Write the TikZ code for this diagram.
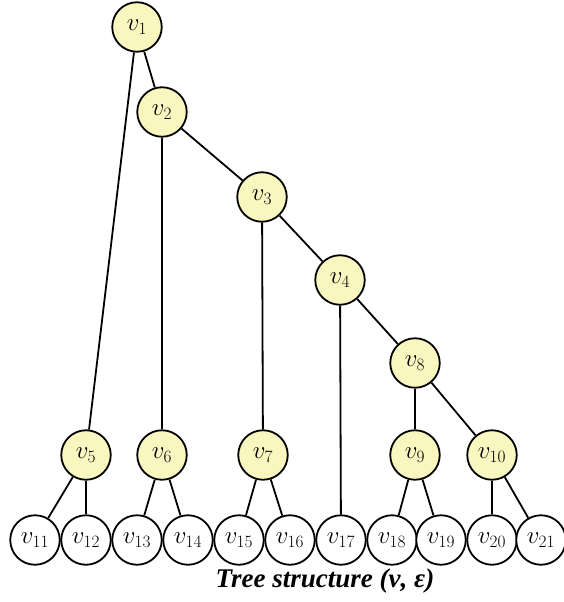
\documentclass[tikz,border=0pt]{standalone}
\usepackage{fontspec}
\setmainfont{Liberation Serif}
\begin{document}
\begin{tikzpicture}[x=1pt,y=-1pt,
  vnode/.style={circle,draw=black,line width=1.8pt,minimum size=49.5pt,inner sep=0pt,font=\fontsize{25}{28}\selectfont},
  inner/.style={vnode,fill={rgb,255:red,249;green,246;blue,192}},
  leaf/.style={vnode,fill=white},
  edge/.style={line width=1.8pt}]
\useasboundingbox (0,0) rectangle (563,602);
\node[inner] (v1) at (137,27) {$v_1$};
\node[inner] (v2) at (162,112) {$v_2$};
\node[inner] (v3) at (262,197) {$v_3$};
\node[inner] (v4) at (340,280) {$v_4$};
\node[inner] (v8) at (415,363) {$v_8$};
\node[inner] (v5) at (86,455) {$v_5$};
\node[inner] (v6) at (162,455) {$v_6$};
\node[inner] (v7) at (263,455) {$v_7$};
\node[inner] (v9) at (415,455) {$v_9$};
\node[inner] (v10) at (492,455) {$v_{10}$};
\node[leaf] (v11) at (35,540) {$v_{11}$};
\node[leaf] (v12) at (86,540) {$v_{12}$};
\node[leaf] (v13) at (137,540) {$v_{13}$};
\node[leaf] (v14) at (188,540) {$v_{14}$};
\node[leaf] (v15) at (239,540) {$v_{15}$};
\node[leaf] (v16) at (290,540) {$v_{16}$};
\node[leaf] (v17) at (341,540) {$v_{17}$};
\node[leaf] (v18) at (392,540) {$v_{18}$};
\node[leaf] (v19) at (441,540) {$v_{19}$};
\node[leaf] (v20) at (492,540) {$v_{20}$};
\node[leaf] (v21) at (541,540) {$v_{21}$};
\foreach \a/\b in {v1/v2,v1/v5,v2/v3,v2/v6,v3/v4,v3/v7,v4/v8,v4/v17,v8/v9,v8/v10,v5/v11,v5/v12,v6/v13,v6/v14,v7/v15,v7/v16,v9/v18,v9/v19,v10/v20,v10/v21}
  \draw[edge] (\a) -- (\b);
\node[font=\fontsize{27}{30}\selectfont\bfseries\itshape] (cap) at (325,581) {Tree structure (ν, ε)};
\end{tikzpicture}
\end{document}
